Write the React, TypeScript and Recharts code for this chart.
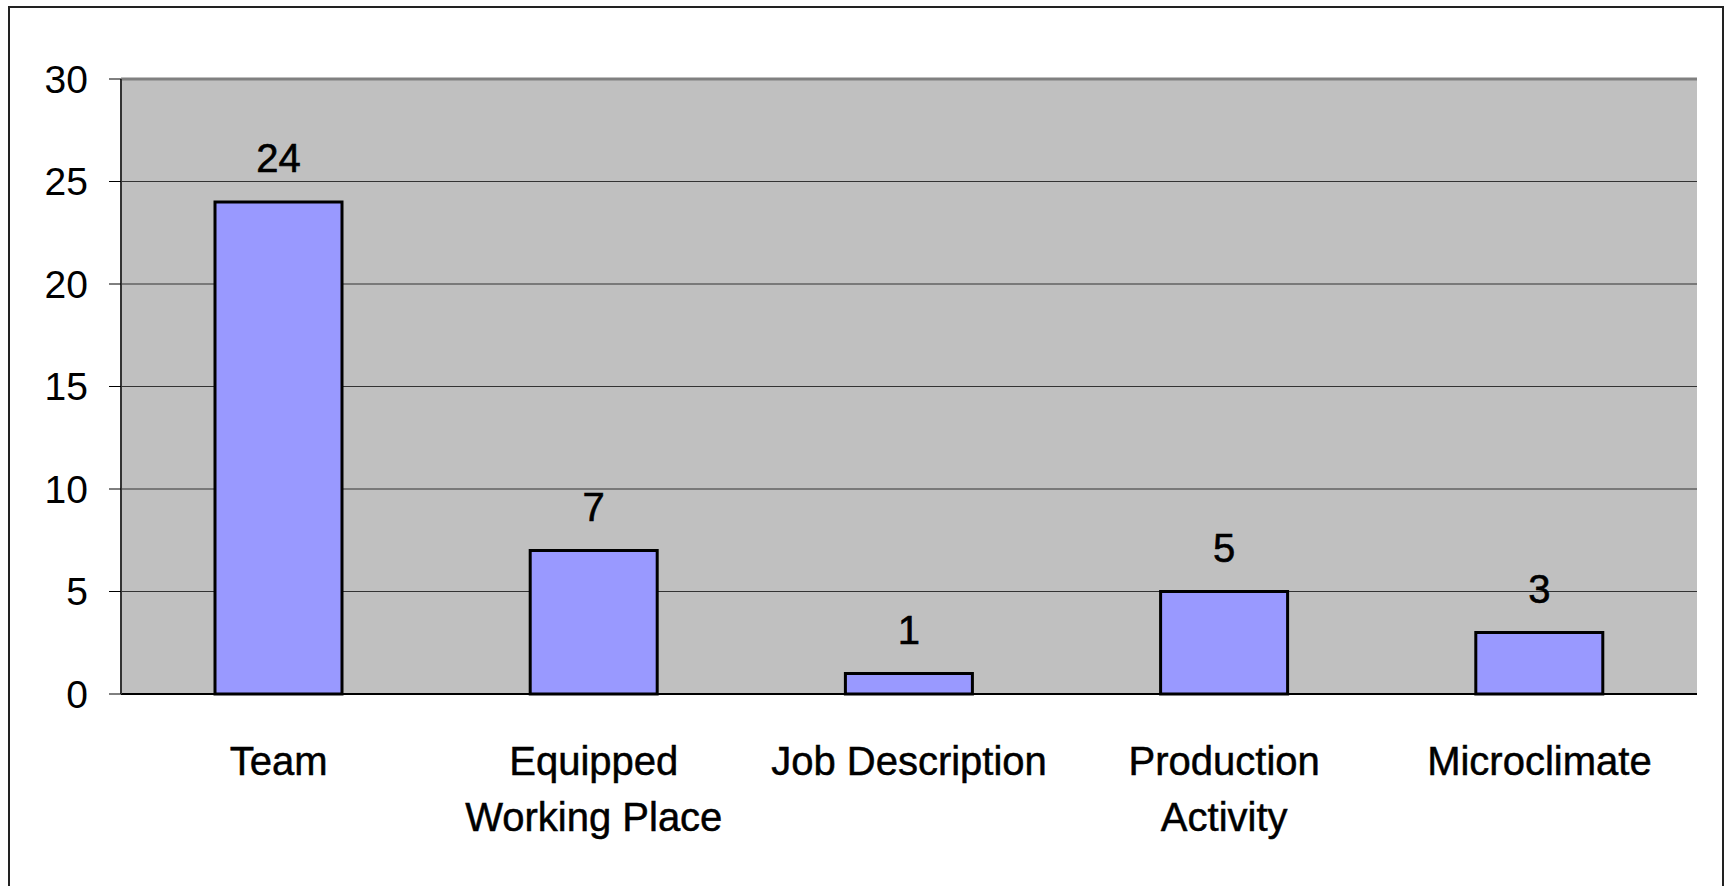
import {
  BarChart,
  Bar,
  XAxis,
  YAxis,
  CartesianGrid,
  LabelList,
  ReferenceLine,
} from 'recharts';

const categories = [
  'Team',
  'Equipped\nWorking Place',
  'Job Description',
  'Production\nActivity',
  'Microclimate',
];
const counts = [24, 7, 1, 5, 3];
const yTicks = [0, 5, 10, 15, 20, 25, 30];
const edgeTicks = [0, 1, 2, 3, 4, 5];

const data = categories.map((name, i) => ({ name, value: counts[i] }));

const FONT = '"Liberation Sans", Arial, sans-serif';

function CategoryTick(props: any) {
  const { x, y, payload } = props;
  const lines = String(payload.value).split('\n');
  return (
    <text
      x={x}
      y={y}
      textAnchor="middle"
      fontSize={40}
      fill="#000"
      stroke="#000"
      strokeWidth={0.5}
      fontFamily={FONT}
    >
      {lines.map((line, i) => (
        <tspan key={i} x={x} dy={i === 0 ? 81 : 56}>
          {line}
        </tspan>
      ))}
    </text>
  );
}

export default function App() {
  return (
    <div
      style={{
        position: 'absolute',
        left: 0,
        top: 0,
        width: 1727,
        height: 886,
        overflow: 'hidden',
        background: '#fff',
        fontFamily: FONT,
      }}
    >
      <div
        style={{
          position: 'absolute',
          left: 8,
          top: 6,
          width: 1716,
          height: 900,
          border: '2px solid #222',
          boxSizing: 'border-box',
        }}
      />
      <div style={{ position: 'absolute', left: 0, top: 0 }}>
        <BarChart
          width={1727}
          height={886}
          data={data}
          margin={{ top: 79, right: 30, bottom: 42, left: 21 }}
        >
          <CartesianGrid vertical={false} fill="#C0C0C0" stroke="#333" />
          <XAxis
            xAxisId="edges"
            type="number"
            domain={[0, 5]}
            ticks={edgeTicks}
            allowDataOverflow
            tick={false}
            tickSize={14}
            height={0}
            axisLine={false}
            tickLine={{ stroke: '#000', strokeWidth: 1 }}
          />
          <XAxis
            dataKey="name"
            interval={0}
            height={150}
            tickLine={false}
            tickSize={0}
            tickMargin={0}
            axisLine={{ stroke: '#000', strokeWidth: 2 }}
            tick={<CategoryTick />}
          />
          <YAxis
            domain={[0, 30]}
            ticks={yTicks}
            width={100}
            tickSize={12}
            tickMargin={21}
            axisLine={{ stroke: '#333', strokeWidth: 2 }}
            tickLine={{ stroke: '#000', strokeWidth: 1 }}
            tick={{ fontSize: 39, fill: '#000', fontFamily: FONT }}
          />
          <ReferenceLine y={30} stroke="#808080" strokeWidth={3} />
          <ReferenceLine xAxisId="edges" x={5} stroke="#808080" strokeWidth={3} />
          <Bar
            dataKey="value"
            fill="#9999FF"
            stroke="#000"
            strokeWidth={3}
            barSize={127}
            isAnimationActive={false}
          >
            <LabelList
              dataKey="value"
              position="top"
              offset={30}
              fill="#000"
              stroke="#000"
              strokeWidth={0.6}
              fontSize={40}
              fontFamily={FONT}
            />
          </Bar>
        </BarChart>
      </div>
    </div>
  );
}
